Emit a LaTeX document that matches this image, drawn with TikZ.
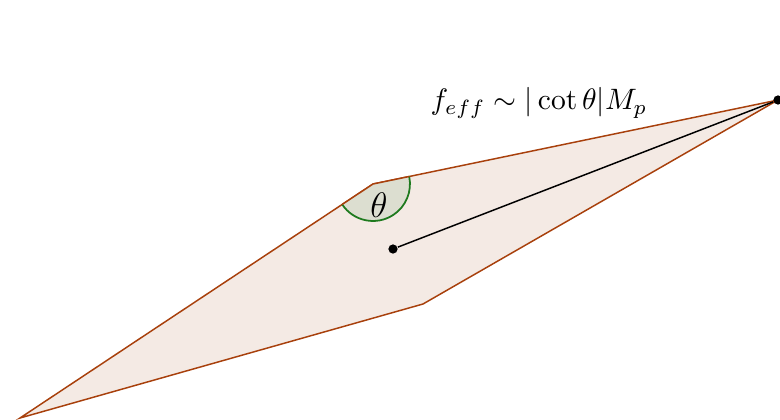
\documentclass[tikz,border=0pt]{standalone}
\usepackage{amsmath}
\usepackage{amssymb}
\usepackage{tikz}
\usetikzlibrary{calc}
\definecolor{PlaneEdge}{HTML}{A8400C}
\definecolor{PlaneFill}{HTML}{F4EAE4}
\definecolor{AngleEdge}{HTML}{1E7A1E}
\definecolor{AngleFill}{HTML}{DCDED0}

\begin{document}
\begin{tikzpicture}[x=0.0119cm,y=-0.0119cm]
  \tikzstyle{plane}=[draw=PlaneEdge,fill=PlaneFill,line width=0.5pt]
  \tikzstyle{pt}=[fill=black,circle,inner sep=0pt,minimum size=1.1mm]
  \useasboundingbox (0,0) rectangle (780,419);
  % corners of the plane
  \coordinate (bl) at (20,418);
  \coordinate (tm) at (373,184);
  \coordinate (rt) at (778,100);
  \coordinate (bm) at (423,304);
  \draw[plane] (bl)--(tm)--(rt)--(bm)--cycle;
  % angle at the upper corner
  \coordinate (a0) at ($(tm)+(213.5:0.44cm)$);
  \coordinate (a1) at ($(tm)+(11.7:0.44cm)$);
  \fill[AngleFill] (tm)--(a0) arc[start angle=213.5,end angle=371.7,radius=0.44cm]--cycle;
  \draw[draw=AngleEdge,line width=0.6pt]
    (a0) arc[start angle=213.5,end angle=371.7,radius=0.44cm];
  \draw[draw=PlaneEdge,line width=0.5pt] (a0)--(tm)--(a1);
  \node at (379,205) {\large$\theta$};
  % centre and far point
  \node[pt] (c) at (393,249) {};
  \node[pt] (p) at (778,100) {};
  \draw[line width=0.5pt] (c)--(p);
  \node[font=\fontsize{10.4}{12}\selectfont] (lbl) at (539,103) {$f_{eff}\sim|\cot\theta|M_p$};
\end{tikzpicture}
\end{document}
